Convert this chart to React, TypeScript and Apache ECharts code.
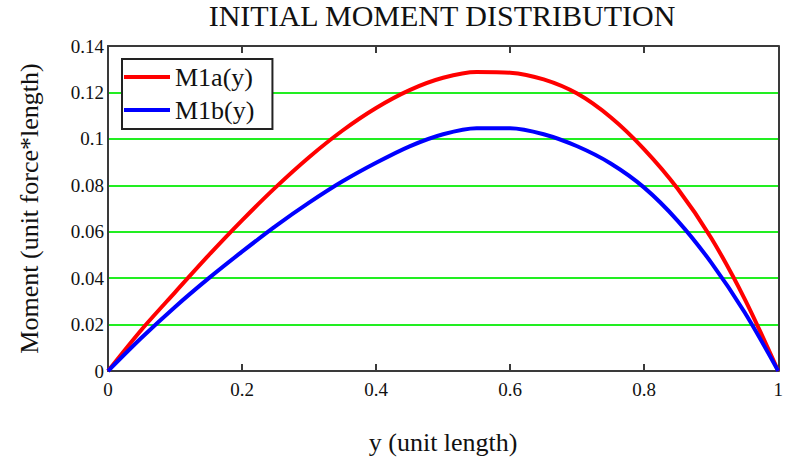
import React, { useEffect, useRef } from "react";
import * as echarts from "echarts";

const yPositions = [0, 0.05, 0.1, 0.15, 0.2, 0.25, 0.3, 0.35, 0.4, 0.45, 0.5, 0.55, 0.6, 0.65, 0.7, 0.75, 0.8, 0.85, 0.9, 0.95, 1.0];
const m1a = [0, 0.0178, 0.0339, 0.0498, 0.0649, 0.0791, 0.0921, 0.1036, 0.1133, 0.121, 0.1263, 0.1288, 0.1285, 0.1256, 0.1195, 0.1093, 0.0955, 0.0785, 0.0573, 0.031, 0];
const m1b = [0, 0.0143, 0.0276, 0.0399, 0.0514, 0.0624, 0.0725, 0.0817, 0.0897, 0.0968, 0.102, 0.1046, 0.1046, 0.102, 0.0968, 0.0894, 0.079, 0.0647, 0.0467, 0.0252, 0];
const seriesNames = ["M1a(y)", "M1b(y)"];
const titleText = "INITIAL MOMENT DISTRIBUTION";
const xName = "y (unit length)";
const yName = "Moment (unit force*length)";

const FONT = "Liberation Serif";
const AXIS = "#3a3a3a";

export default function App() {
  const ref = useRef<HTMLDivElement>(null);
  useEffect(() => {
    if (!ref.current) return;
    const chart = echarts.init(ref.current, undefined, { renderer: "svg" });
    const pairs = (vals: number[]) => yPositions.map((x, i) => [x, vals[i]]);
    chart.setOption({
      animation: false,
      backgroundColor: "#ffffff",
      textStyle: { fontFamily: FONT },
      title: {
        text: titleText,
        left: 442,
        textAlign: "center",
        top: 0,
        padding: 0,
        textStyle: { fontFamily: FONT, fontSize: 30, lineHeight: 30, fontWeight: "normal", color: "#111" },
      },
      legend: {
        orient: "vertical",
        left: 122,
        top: 59,
        padding: [5, 18, 6, 2],
        itemGap: 7,
        itemWidth: 46,
        itemHeight: 4,
        icon: "rect",
        backgroundColor: "#ffffff",
        borderColor: "#222",
        borderWidth: 2,
        borderRadius: 0,
        textStyle: { fontFamily: FONT, fontSize: 26, lineHeight: 26, color: "#111" },
        data: seriesNames,
      },
      grid: { left: 108, right: 4, top: 46, bottom: 94, containLabel: false },
      xAxis: [
        {
          type: "value",
          min: 0,
          max: 1,
          interval: 0.2,
          name: xName,
          nameLocation: "middle",
          nameGap: 58,
          nameTextStyle: { fontFamily: FONT, fontSize: 26, color: "#111" },
          axisLine: { show: true, onZero: false, lineStyle: { color: AXIS, width: 2 } },
          axisTick: { show: true, inside: true, length: 7, lineStyle: { color: AXIS, width: 2 } },
          axisLabel: { fontFamily: FONT, fontSize: 19, color: "#111", margin: 9 },
          splitLine: { show: false },
        },
        {
          type: "value",
          position: "top",
          min: 0,
          max: 1,
          interval: 0.2,
          axisLine: { show: true, onZero: false, lineStyle: { color: AXIS, width: 2 } },
          axisTick: { show: true, inside: true, length: 7, lineStyle: { color: AXIS, width: 2 } },
          axisLabel: { show: false },
          splitLine: { show: false },
        },
      ],
      yAxis: [
        {
          type: "value",
          min: 0,
          max: 0.14,
          interval: 0.02,
          name: yName,
          nameLocation: "middle",
          nameGap: 66,
          nameTextStyle: { fontFamily: FONT, fontSize: 26, color: "#111" },
          axisLine: { show: true, onZero: false, lineStyle: { color: AXIS, width: 2 } },
          axisTick: { show: false },
          axisLabel: { fontFamily: FONT, fontSize: 19, color: "#111", margin: 4 },
          splitLine: { show: true, lineStyle: { color: "#22ee22", width: 2 } },
        },
        {
          type: "value",
          position: "right",
          min: 0,
          max: 0.14,
          interval: 0.02,
          axisLine: { show: true, onZero: false, lineStyle: { color: AXIS, width: 2 } },
          axisTick: { show: false },
          axisLabel: { show: false },
          splitLine: { show: false },
        },
      ],
      series: [
        {
          name: seriesNames[0],
          type: "line",
          xAxisIndex: 0,
          yAxisIndex: 0,
          data: pairs(m1a),
          smooth: 0.3,
          symbol: "none",
          lineStyle: { color: "#ff0000", width: 4 },
          itemStyle: { color: "#ff0000" },
          z: 3,
        },
        {
          name: seriesNames[1],
          type: "line",
          xAxisIndex: 0,
          yAxisIndex: 0,
          data: pairs(m1b),
          smooth: 0.3,
          symbol: "none",
          lineStyle: { color: "#0000ff", width: 4 },
          itemStyle: { color: "#0000ff" },
          z: 3,
        },
      ],
    });
    return () => chart.dispose();
  }, []);
  return <div ref={ref} style={{ width: 786, height: 465, position: "fixed", left: 0, top: 0 }} />;
}
